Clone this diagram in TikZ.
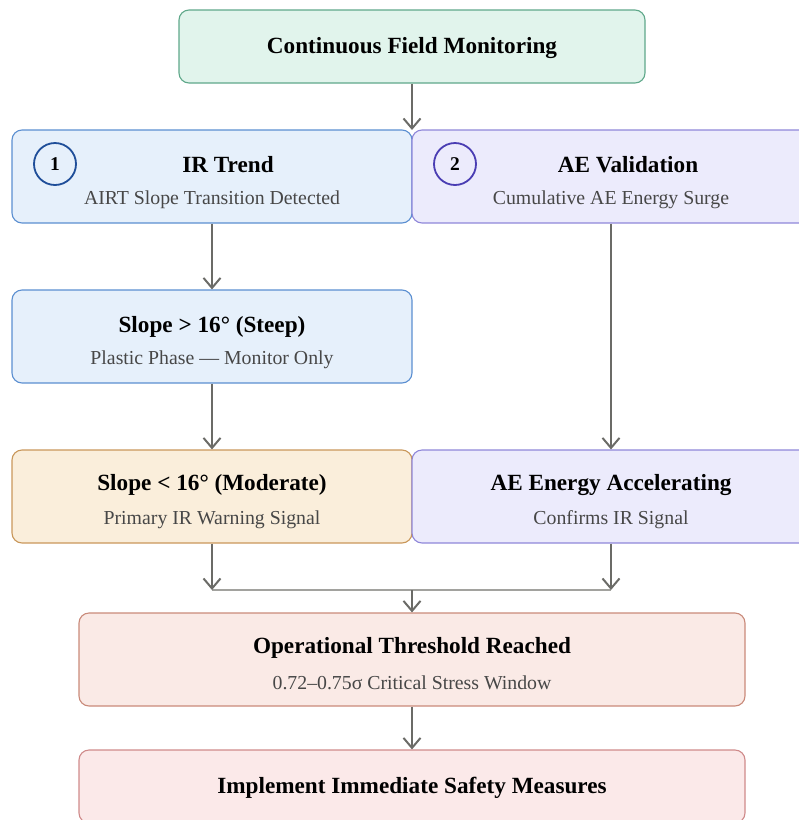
\documentclass[tikz,border=0pt]{standalone}
\usepackage{fontspec}
\setmainfont{Liberation Serif}
\usetikzlibrary{positioning,arrows.meta}

\definecolor{greenfill}{HTML}{E1F4EC}
\definecolor{greenline}{HTML}{5FA88A}
\definecolor{bluefill}{HTML}{E6F0FB}
\definecolor{blueline}{HTML}{5B8FD1}
\definecolor{purplefill}{HTML}{ECEBFC}
\definecolor{purpleline}{HTML}{8F87D9}
\definecolor{orangefill}{HTML}{FAEEDB}
\definecolor{orangeline}{HTML}{C9975A}
\definecolor{redfill}{HTML}{FAEAE6}
\definecolor{redline}{HTML}{C98A7A}
\definecolor{pinkfill}{HTML}{FBE9E9}
\definecolor{pinkline}{HTML}{CF8A8A}
\definecolor{numblue}{HTML}{1F4E99}
\definecolor{numpurple}{HTML}{4A3DB3}
\definecolor{arrowgray}{HTML}{6B6B67}
\definecolor{joingray}{HTML}{A2A29E}

\begin{document}
\begin{tikzpicture}[x=1pt,y=-1pt,inner sep=0pt,
  box/.style={draw,rounded corners=10pt,line width=1.1pt,minimum width=400pt,minimum height=93pt},
  ttl/.style={font=\fontsize{23.2}{27}\selectfont\bfseries,text=black},
  sub/.style={font=\fontsize{19.8}{23}\selectfont,text=black!72},
  num/.style={circle,draw,line width=1.8pt,minimum size=42pt,text=black,font=\fontsize{19.5}{22}\selectfont\bfseries},
  flow/.style={draw=arrowgray,line width=2.2pt,-{Straight Barb[length=10pt,width=17pt,line width=2pt]}},
  joinline/.style={draw=joingray,line width=1.5pt}]
\useasboundingbox (0,0) rectangle (799,820);

% start
\node[box,fill=greenfill,draw=greenline,minimum width=466pt,minimum height=73pt] (top) at (412,46.5) {};
\node[ttl] (topT) at (412,48.5) {Continuous Field Monitoring};

% two parallel checks
\node[box,fill=bluefill,draw=blueline] (irBox) at (212,176.5) {};
\node[num,draw=numblue] (irNum) at (55,164) {1};
\node[ttl] (irT) at (228,165) {IR Trend};
\node[sub] (irS) at (212,200) {AIRT Slope Transition Detected};

\node[box,fill=purplefill,draw=purpleline,minimum width=398pt] (aeV) at (611,176.5) {};
\node[num,draw=numpurple] (aeNum) at (455,164) {2};
\node[ttl] (aeT) at (628,165) {AE Validation};
\node[sub] (aeS) at (611,200) {Cumulative AE Energy Surge};

% IR slope branch
\node[box,fill=bluefill,draw=blueline] (slopeS) at (212,336.5) {};
\node[ttl] (slopeST) at (212,327) {Slope > 16° (Steep)};
\node[sub] (slopeSS) at (212,360) {Plastic Phase — Monitor Only};

\node[box,fill=orangefill,draw=orangeline] (slopeM) at (212,496.5) {};
\node[ttl] (slopeMT) at (212,485) {Slope < 16° (Moderate)};
\node[sub] (slopeMS) at (212,520) {Primary IR Warning Signal};

\node[box,fill=purplefill,draw=purpleline,minimum width=398pt] (aeAcc) at (611,496.5) {};
\node[ttl] (aeAccT) at (611,485) {AE Energy Accelerating};
\node[sub] (aeAccS) at (611,520) {Confirms IR Signal};

% outcome
\node[box,fill=redfill,draw=redline,minimum width=666pt] (thresh) at (412,659.5) {};
\node[ttl] (threshT) at (412,648) {Operational Threshold Reached};
\node[sub] (threshS) at (412,683) {0.72–0.75σ Critical Stress Window};

\node[box,fill=pinkfill,draw=pinkline,minimum width=666pt,minimum height=73pt] (safety) at (412,786.5) {};
\node[ttl] (safetyT) at (412,788) {Implement Immediate Safety Measures};

% connectors
\coordinate (split) at (412,130);
\coordinate (merge) at (412,590);
\draw[flow] (top) -- (split);
\draw[flow] (irBox) -- (slopeS);
\draw[flow] (slopeS) -- (slopeM);
\draw[flow] (aeV) -- (aeAcc);
\draw[joinline] (slopeM.south |- merge) -- (aeAcc.south |- merge);
\draw[flow] (slopeM) -- (slopeM.south |- merge);
\draw[flow] (aeAcc) -- (aeAcc.south |- merge);
\draw[flow] (merge) -- (thresh);
\draw[flow] (thresh) -- (safety);
\end{tikzpicture}
\end{document}
